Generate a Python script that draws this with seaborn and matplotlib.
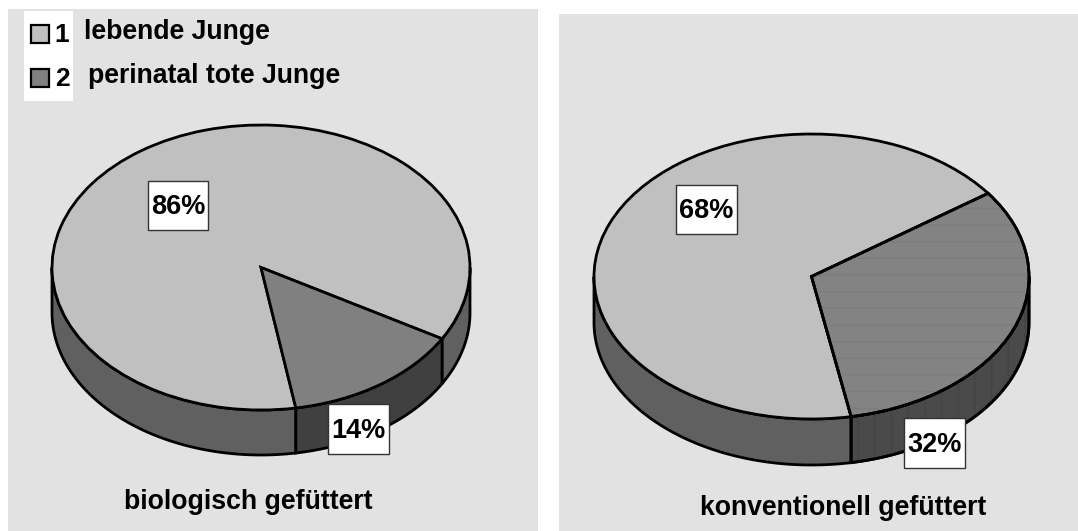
import numpy as np
import matplotlib
matplotlib.use("Agg")
import matplotlib.pyplot as plt
from matplotlib.patches import Polygon, Rectangle, Wedge
import seaborn as sns

# Litter outcome shares, in percent
legend_numbers = ["1", "2"]
legend_names = ["lebende Junge", "perinatal tote Junge"]
biologisch_values = [86, 14]
konventionell_values = [68, 32]
biologisch_title = "biologisch gefüttert"
konventionell_title = "konventionell gefüttert"

sns.set_theme(style="white")
plt.rcParams["font.family"] = ["Liberation Sans", "DejaVu Sans"]
plt.rcParams["hatch.linewidth"] = 1.0

W, H = 1078, 531
PANEL = "#e2e2e2"
top_colors = sns.color_palette(["#c0c0c0", "#808080"])
wall_colors = sns.color_palette(["#606060", "#404040"])
LW = 2.0

fig = plt.figure(figsize=(W / 100, H / 100), dpi=100, facecolor="white")

# Pixel-space layers: one behind the pies, one in front of them
back = fig.add_axes([0, 0, 1, 1], zorder=0)
front = fig.add_axes([0, 0, 1, 1], zorder=5)
for layer in (back, front):
    layer.set_xlim(0, W)
    layer.set_ylim(H, 0)
    layer.axis("off")
    layer.patch.set_alpha(0)

for x0, y0, x1 in [(8, 9, 538), (559, 14, 1078)]:
    back.add_patch(Rectangle((x0, y0), x1 - x0, H - y0, fc=PANEL, ec="none"))


def front_visible_spans(theta1, theta2):
    """Parts of a wedge (angles in degrees) on the near half of the rim."""
    spans = []
    for shift in (-720, -360, 0, 360, 720):
        a, b = max(theta1 + shift, 180), min(theta2 + shift, 360)
        if a < b:
            spans.append((a, b))
    return spans


def draw_pie(values, startangle, cx, cy, rx, ry, depth, wall_hatch=None, top_hatch=None, fill=None, walls=None):
    pad = 8
    left, right = cx - rx - pad, cx + rx + pad
    upper, lower = cy - ry - pad, cy + ry + depth + pad
    ax = fig.add_axes([left / W, 1 - lower / H, (right - left) / W, (lower - upper) / H], zorder=2)
    wedges, _ = ax.pie(
        values, startangle=startangle, counterclock=False, radius=1,
        colors=fill or top_colors,
        wedgeprops=dict(edgecolor="black", linewidth=LW, zorder=3),
    )
    ax.set_aspect("auto")
    ax.set_xlim(left=-1 - pad / rx, right=1 + pad / rx)
    ax.set_ylim(bottom=-(ry + depth + pad) / ry, top=(ry + pad) / ry)
    ax.patch.set_alpha(0)
    dy = depth / ry
    rim = walls or wall_colors

    # Rim below the top face, one section per slice
    for i, w in enumerate(wedges):
        for a, b in front_visible_spans(w.theta1, w.theta2):
            t = np.radians(np.linspace(a, b, 80))
            xs, ys = np.cos(t), np.sin(t)
            outline = np.r_[np.c_[xs, ys], np.c_[xs[::-1], ys[::-1] - dy]]
            ax.add_patch(Polygon(outline, closed=True, fc=rim[i], ec="black", lw=LW, zorder=1))
            if wall_hatch and i == 1:
                ax.add_patch(Polygon(outline, closed=True, fc="none", ec=wall_hatch, hatch="|", lw=0, zorder=1.5))
                ax.add_patch(Polygon(outline, closed=True, fc="none", ec="black", lw=LW, zorder=2))

    # Woven texture on the second slice, outline redrawn above it
    if top_hatch:
        w = wedges[1]
        ax.add_patch(Wedge((0, 0), 1, w.theta1, w.theta2, fc="none", ec=top_hatch, hatch="-", lw=0, zorder=4))
        ax.add_patch(Wedge((0, 0), 1, w.theta1, w.theta2, fc="none", ec="black", lw=LW, zorder=5))
    return ax


draw_pie(biologisch_values, -80.4, 261, 267.5, 209, 142.5, 45)
draw_pie(konventionell_values, -79.5, 811.5, 276.5, 217.5, 142.5, 46,
         wall_hatch="#444444", top_hatch="#7c7c7c",
         fill=sns.color_palette(["#c0c0c0", "#838383"]),
         walls=sns.color_palette(["#606060", "#4a4a4a"]))


def value_box(value, x0, y0, x1, y1):
    front.add_patch(Rectangle((x0, y0), x1 - x0, y1 - y0, fc="white", ec="#333333", lw=1.0))
    front.text((x0 + x1) / 2, (y0 + y1) / 2 + 1.5, f"{value}%", ha="center", va="center",
               fontsize=19.5, fontweight="bold", color="black")


value_box(biologisch_values[0], 148, 181, 208, 230)
value_box(biologisch_values[1], 328, 404, 389, 454)
value_box(konventionell_values[0], 676, 185, 737, 234)
value_box(konventionell_values[1], 904, 418, 965, 468)

# Legend block
front.add_patch(Rectangle((24, 11), 49, 90, fc="white", ec="none"))
for num, name, color, y_sq, x_name, y_name in zip(
    legend_numbers, legend_names, top_colors, (33.5, 77.5), (84, 88), (32, 76)
):
    front.add_patch(Rectangle((30.5, y_sq - 9), 18.5, 18.5, fc=color, ec="black", lw=1.6))
    front.text(62, y_sq + 1.5, num, ha="center", va="center", fontsize=19, fontweight="bold", color="black")
    front.text(x_name, y_name, name, ha="left", va="center", fontsize=19.2, fontweight="bold", color="black")

front.text(248.5, 502, biologisch_title, ha="center", va="center", fontsize=19.2, fontweight="bold", color="black")
front.text(843, 508, konventionell_title, ha="center", va="center", fontsize=19.2, fontweight="bold", color="black")

fig.savefig("out.png", dpi=100, facecolor="white")
